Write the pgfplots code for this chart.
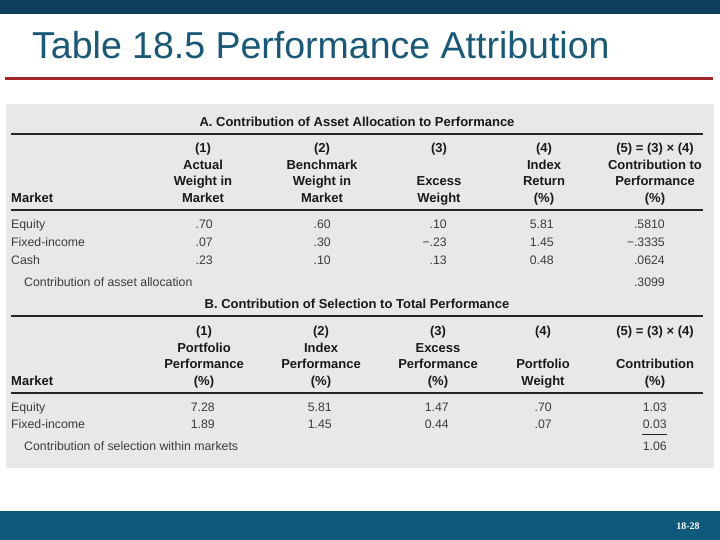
\documentclass[border=0pt]{standalone}
\usepackage{pgfplots}
\pgfplotsset{compat=1.18}
\usepackage{fontspec}
\setmainfont{Liberation Sans}
\newfontfamily\footfont{Liberation Serif}

\definecolor{topbar}{RGB}{11,63,90}
\definecolor{botbar}{RGB}{15,90,123}
\definecolor{titleblue}{RGB}{24,88,120}
\definecolor{redline}{RGB}{160,40,40}
\definecolor{panel}{RGB}{232,232,232}
\definecolor{bodytext}{RGB}{60,60,60}

\newcommand{\fs}[1]{\fontsize{#1bp}{#1bp}\selectfont}
% header cell (bold, centred), number cell (right aligned), row label
\newcommand{\hd}[3]{\node[anchor=base, font=\fs{13}\bfseries, text=black!90, inner sep=0pt] at (axis cs:#1,#2) {#3};}
\newcommand{\nr}[3]{\node[anchor=base east, font=\fs{12.3}, text=bodytext, inner sep=0pt] at (axis cs:#1,#2) {#3};}
\newcommand{\lb}[3]{\node[anchor=base west, font=\fs{12.3}, text=bodytext, inner sep=0pt] at (axis cs:#1,#2) {#3};}

\begin{document}
\begin{tikzpicture}
\begin{axis}[
  width=720bp, height=540bp, scale only axis,
  xmin=0, xmax=720, ymin=0, ymax=540, y dir=reverse,
  hide axis, clip=false,
]
% slide background, bars and table panel
\addplot[fill=white, draw=none] coordinates {(0,0) (720,0) (720,540) (0,540)} -- cycle;
\addplot[fill=topbar, draw=none] coordinates {(0,0) (720,0) (720,14) (0,14)} -- cycle;
\addplot[fill=botbar, draw=none] coordinates {(0,511) (720,511) (720,540) (0,540)} -- cycle;
\addplot[draw=redline, line width=2.6bp] coordinates {(5,78.5) (713,78.5)};
\addplot[fill=panel, draw=none] coordinates {(6,104) (714,104) (714,468) (6,468)} -- cycle;

\node[anchor=base west, font=\fs{37.5}, text=titleblue, inner sep=0pt] at (axis cs:32,59) {Table 18.5 Performance Attribution};
\node[anchor=base, font=\footfont\fs{10}\bfseries, text=white, inner sep=0pt] at (axis cs:688,529.5) {18-28};

% rules
\addplot[black!85, line width=1.2bp] coordinates {(11,134) (703,134)};
\addplot[black!85, line width=1.2bp] coordinates {(11,210) (703,210)};
\addplot[black!85, line width=1.2bp] coordinates {(11,316) (703,316)};
\addplot[black!85, line width=1.2bp] coordinates {(11,393) (703,393)};
\addplot[black!85, line width=0.9bp] coordinates {(642,434) (667,434)};

% ---- Panel A
\hd{357}{126.5}{A. Contribution of Asset Allocation to Performance}
\hd{203}{152.5}{(1)}      \hd{322}{152.5}{(2)}       \hd{439}{152.5}{(3)}    \hd{544}{152.5}{(4)}    \hd{655}{152.5}{(5) = (3) × (4)}
\hd{203}{169.5}{Actual}   \hd{322}{169.5}{Benchmark}                         \hd{544}{169.5}{Index}  \hd{655}{169.5}{Contribution to}
\hd{203}{185.5}{Weight in}\hd{322}{185.5}{Weight in} \hd{439}{185.5}{Excess} \hd{544}{185.5}{Return} \hd{655}{185.5}{Performance}
\hd{203}{202.5}{Market}   \hd{322}{202.5}{Market}    \hd{439}{202.5}{Weight} \hd{544}{202.5}{(\%)}   \hd{655}{202.5}{(\%)}
\node[anchor=base west, font=\fs{13}\bfseries, text=black!90, inner sep=0pt] at (axis cs:11,202.5) {Market};

\lb{11}{228.5}{Equity}       \nr{213}{228.5}{.70} \nr{331}{228.5}{.60} \nr{447}{228.5}{.10}  \nr{554}{228.5}{5.81} \nr{665}{228.5}{.5810}
\lb{11}{246.5}{Fixed-income} \nr{213}{246.5}{.07} \nr{331}{246.5}{.30} \nr{447}{246.5}{−.23} \nr{554}{246.5}{1.45} \nr{665}{246.5}{−.3335}
\lb{11}{264.5}{Cash}         \nr{213}{264.5}{.23} \nr{331}{264.5}{.10} \nr{447}{264.5}{.13}  \nr{554}{264.5}{0.48} \nr{665}{264.5}{.0624}
\lb{24}{286.5}{Contribution of asset allocation}                                              \nr{665}{286.5}{.3099}

% ---- Panel B
\hd{357}{308.5}{B. Contribution of Selection to Total Performance}
\hd{204}{335.5}{(1)}         \hd{321}{335.5}{(2)}         \hd{438}{335.5}{(3)}         \hd{543}{335.5}{(4)}       \hd{655}{335.5}{(5) = (3) × (4)}
\hd{204}{352.5}{Portfolio}   \hd{321}{352.5}{Index}       \hd{438}{352.5}{Excess}
\hd{204}{368.5}{Performance} \hd{321}{368.5}{Performance} \hd{438}{368.5}{Performance} \hd{543}{368.5}{Portfolio} \hd{655}{368.5}{Contribution}
\hd{204}{385.5}{(\%)}        \hd{321}{385.5}{(\%)}        \hd{438}{385.5}{(\%)}        \hd{543}{385.5}{Weight}    \hd{655}{385.5}{(\%)}
\node[anchor=base west, font=\fs{13}\bfseries, text=black!90, inner sep=0pt] at (axis cs:11,385.5) {Market};

\lb{11}{411.5}{Equity}       \nr{215}{411.5}{7.28} \nr{332}{411.5}{5.81} \nr{449}{411.5}{1.47} \nr{552}{411.5}{.70} \nr{667}{411.5}{1.03}
\lb{11}{428.5}{Fixed-income} \nr{215}{428.5}{1.89} \nr{332}{428.5}{1.45} \nr{449}{428.5}{0.44} \nr{552}{428.5}{.07} \nr{667}{428.5}{0.03}
\lb{24}{450.5}{Contribution of selection within markets}                                                         \nr{667}{450.5}{1.06}
\end{axis}
\end{tikzpicture}
\end{document}
